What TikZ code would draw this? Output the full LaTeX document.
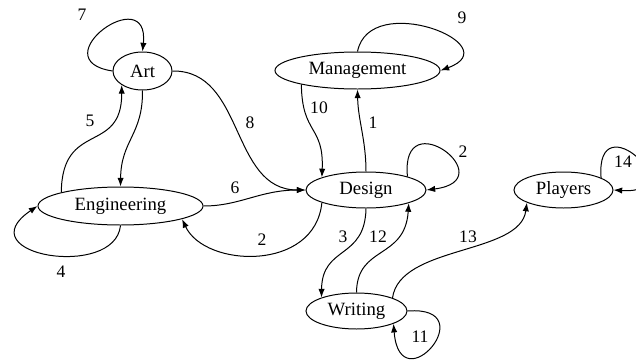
\documentclass[tikz,border=0pt]{standalone}
\usepackage{fontspec}
\setmainfont{Liberation Serif}
\usetikzlibrary{shapes.geometric, arrows.meta}

\begin{document}
\begin{tikzpicture}[x=0.03cm, y=-0.03cm,
        state/.style={draw, ellipse, inner sep=0pt, line width=0.85pt, font=\fontsize{16}{18}\selectfont},
        link/.style={line width=0.85pt, -{Latex[length=2.6mm, width=1.9mm]}},
        weight/.style={font=\fontsize{15}{17}\selectfont}]
                \useasboundingbox (0,0) rectangle (636,360);
                \node[state, minimum width=1.77cm, minimum height=1.14cm] (art) at (142.5,71) {Art};
                \node[state, minimum width=4.95cm, minimum height=1.11cm] (mgmt) at (357.5,70.5) {Management};
                \node[state, minimum width=4.95cm, minimum height=1.14cm] (eng) at (120.5,206) {Engineering};
                \node[state, minimum width=3.6cm, minimum height=1.08cm] (des) at (366,190) {Design};
                \node[state, minimum width=2.97cm, minimum height=1.08cm] (pla) at (563.5,190) {Players};
                \node[state, minimum width=3.03cm, minimum height=1.08cm] (wri) at (356.5,311) {Writing};
                \draw[link] (art.180) .. controls (40,60) and (150,-20) .. (art.90);
                \draw[link] (eng.167) .. controls (62,120) and (122,155) .. (art.214);
                \draw[link] (art.south) .. controls (143,135) and (121,140) .. (eng.north);
                \draw[link] (art.east) .. controls (245,70) and (230,190) .. (des.west);
                \draw[link] (mgmt.194) .. controls (302,135) and (324,125) .. (des.164);
                \draw[link] (des.north) .. controls (366,140) and (358,120) .. (mgmt.south);
                \draw[link] (mgmt.north) .. controls (370,-10) and (510,45) .. (mgmt.east);
                \draw[link] (des.18) .. controls (400,100) and (505,180) .. (des.east);
                \draw[link] (eng.east) .. controls (240,206) and (260,190) .. (des.west);
                \draw[link] (des.196) .. controls (315,272) and (205,268) .. (eng.348);
                \draw[link] (eng.south) .. controls (115,280) and (-35,255) .. (eng.west);
                \draw[link] (des.south) .. controls (365,260) and (322,245) .. (wri.159);
                \draw[link] (wri.north) .. controls (357,245) and (405,260) .. (des.343);
                \draw[link] (wri.20) .. controls (400,245) and (520,255) .. (pla.199);
                \draw[link] (wri.east) .. controls (485,305) and (400,405) .. (wri.341);
                \draw[link] (pla.18) .. controls (595,100) and (695,195) .. (pla.east);
                \node[weight] (w7) at (82,15) {7};
                \node[weight] (w5) at (90,121) {5};
                \node[weight] (w8) at (250,123) {8};
                \node[weight] (w10) at (319,108) {10};
                \node[weight] (w1) at (373,123) {1};
                \node[weight] (w9) at (462,18) {9};
                \node[weight] (w2a) at (463,152) {2};
                \node[weight] (w6) at (235,188) {6};
                \node[weight] (w2b) at (262,240) {2};
                \node[weight] (w4) at (61,272) {4};
                \node[weight] (w3) at (343,237) {3};
                \node[weight] (w12) at (378,237) {12};
                \node[weight] (w13) at (468,237) {13};
                \node[weight] (w11) at (420,337) {11};
                \node[weight] (w14) at (623,162) {14};
            \end{tikzpicture}
\end{document}
